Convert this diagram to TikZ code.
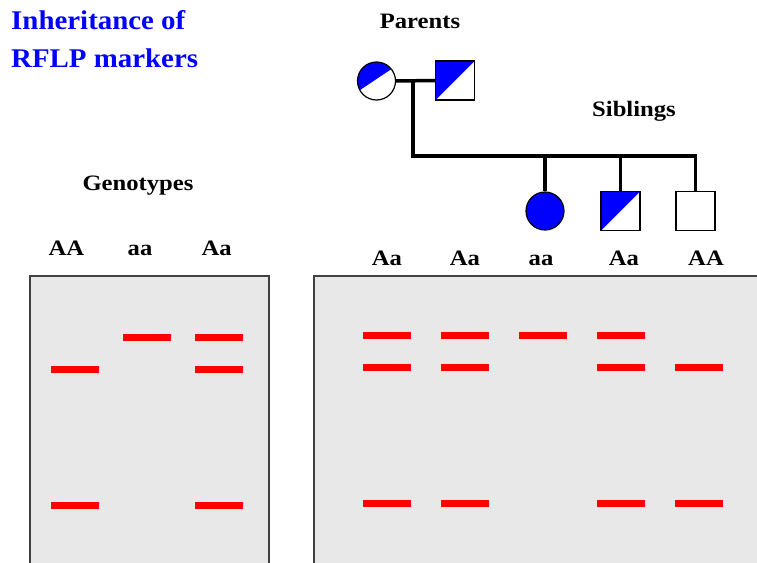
\documentclass[tikz,border=0pt]{standalone}
\usepackage{fontspec}
\setmainfont{Liberation Serif}
\newfontfamily\lblfont[FakeStretch=1.12]{Liberation Serif}
\newfontfamily\ttlfont[FakeStretch=1.07]{Liberation Serif}
\usetikzlibrary{calc}
\definecolor{gelgray}{RGB}{232,232,232}
\definecolor{geledge}{RGB}{64,64,64}
\begin{document}
\begin{tikzpicture}[x=1pt,y=-1pt,
  gel/.style={fill=gelgray,draw=geledge,line width=2pt},
  band/.style={rectangle,fill=red,minimum width=48pt,minimum height=7pt,inner sep=0pt},
  lbl/.style={font=\lblfont\bfseries\fontsize{22}{24}\selectfont,inner sep=0pt,anchor=base},
  ttl/.style={font=\ttlfont\bfseries\fontsize{27}{30}\selectfont,text=blue,inner sep=0pt,anchor=base west},
  sym/.style={draw=black,line width=1.2pt,inner sep=0pt,fill=white},
  fem/.style={sym,circle,minimum size=38pt},
  mal/.style={sym,rectangle,minimum size=39pt},
  link/.style={line width=3.5pt,black}
]
\useasboundingbox (0,0) rectangle (757,562);
\clip (0,0) rectangle (757,562);

% gels
\path[gel] (30,276) rectangle (269,590);
\path[gel] (314,276) rectangle (790,590);

% left gel bands
\node[band] (l1b) at (75,369) {};
\node[band] (l1c) at (75,505) {};
\node[band] (l2a) at (147,337) {};
\node[band] (l3a) at (219,337) {};
\node[band] (l3b) at (219,369) {};
\node[band] (l3c) at (219,505) {};

% right gel bands
\node[band] (r1a) at (386.7,335) {};
\node[band] (r1b) at (386.7,367) {};
\node[band] (r1c) at (386.7,503) {};
\node[band] (r2a) at (465,335) {};
\node[band] (r2b) at (465,367) {};
\node[band] (r2c) at (465,503) {};
\node[band] (r3a) at (543,335) {};
\node[band] (r4a) at (621,335) {};
\node[band] (r4b) at (621,367) {};
\node[band] (r4c) at (621,503) {};
\node[band] (r5b) at (699,367) {};
\node[band] (r5c) at (699,503) {};

% labels
\node[ttl] (t1) at (11,29) {Inheritance of};
\node[ttl] (t2) at (11,67) {RFLP markers};
\node[lbl] (par) at (420,28) {Parents};
\node[lbl] (sibl) at (634,116) {Siblings};
\node[lbl] (gen) at (138,190) {Genotypes};
\node[lbl] (g1) at (66.5,255) {AA};
\node[lbl] (g2) at (140,255) {aa};
\node[lbl] (g3) at (216.7,255) {Aa};
\node[lbl] (s1) at (387,265) {Aa};
\node[lbl] (s2) at (465,265) {Aa};
\node[lbl] (s3) at (541,265) {aa};
\node[lbl] (s4) at (624,265) {Aa};
\node[lbl] (s5) at (706,265) {AA};

% pedigree
\node[fem, path picture={\fill[blue] ($(path picture bounding box.center)+(-30,18)$) -- ++(60,-40) -- ++(0,-12) -- ++(-60,0) -- cycle;}] (mom) at (376.5,81) {};
\node[mal, path picture={\fill[blue] (path picture bounding box.north west) -- (path picture bounding box.north east) -- (path picture bounding box.south west) -- cycle;}] (dad) at (455,80.5) {};
\node[fem, fill=blue] (c1) at (545,211) {};
\node[mal, path picture={\fill[blue] (path picture bounding box.north west) -- (path picture bounding box.north east) -- (path picture bounding box.south west) -- cycle;}] (c2) at (620.5,211) {};
\node[mal] (c3) at (695.5,211) {};

\coordinate (mj) at ($(mom.east)!0.435!(dad.west)$);
\coordinate (sj) at ($(mj)+(0,75)$);
\draw[link] (mom.east) -- (dad.west);
\draw[link] (mj) -- (sj) -| (c3.north);
\draw[link] (c1.north) -- (c1.north |- sj);
\draw[link] (c2.north) -- (c2.north |- sj);
\end{tikzpicture}
\end{document}
